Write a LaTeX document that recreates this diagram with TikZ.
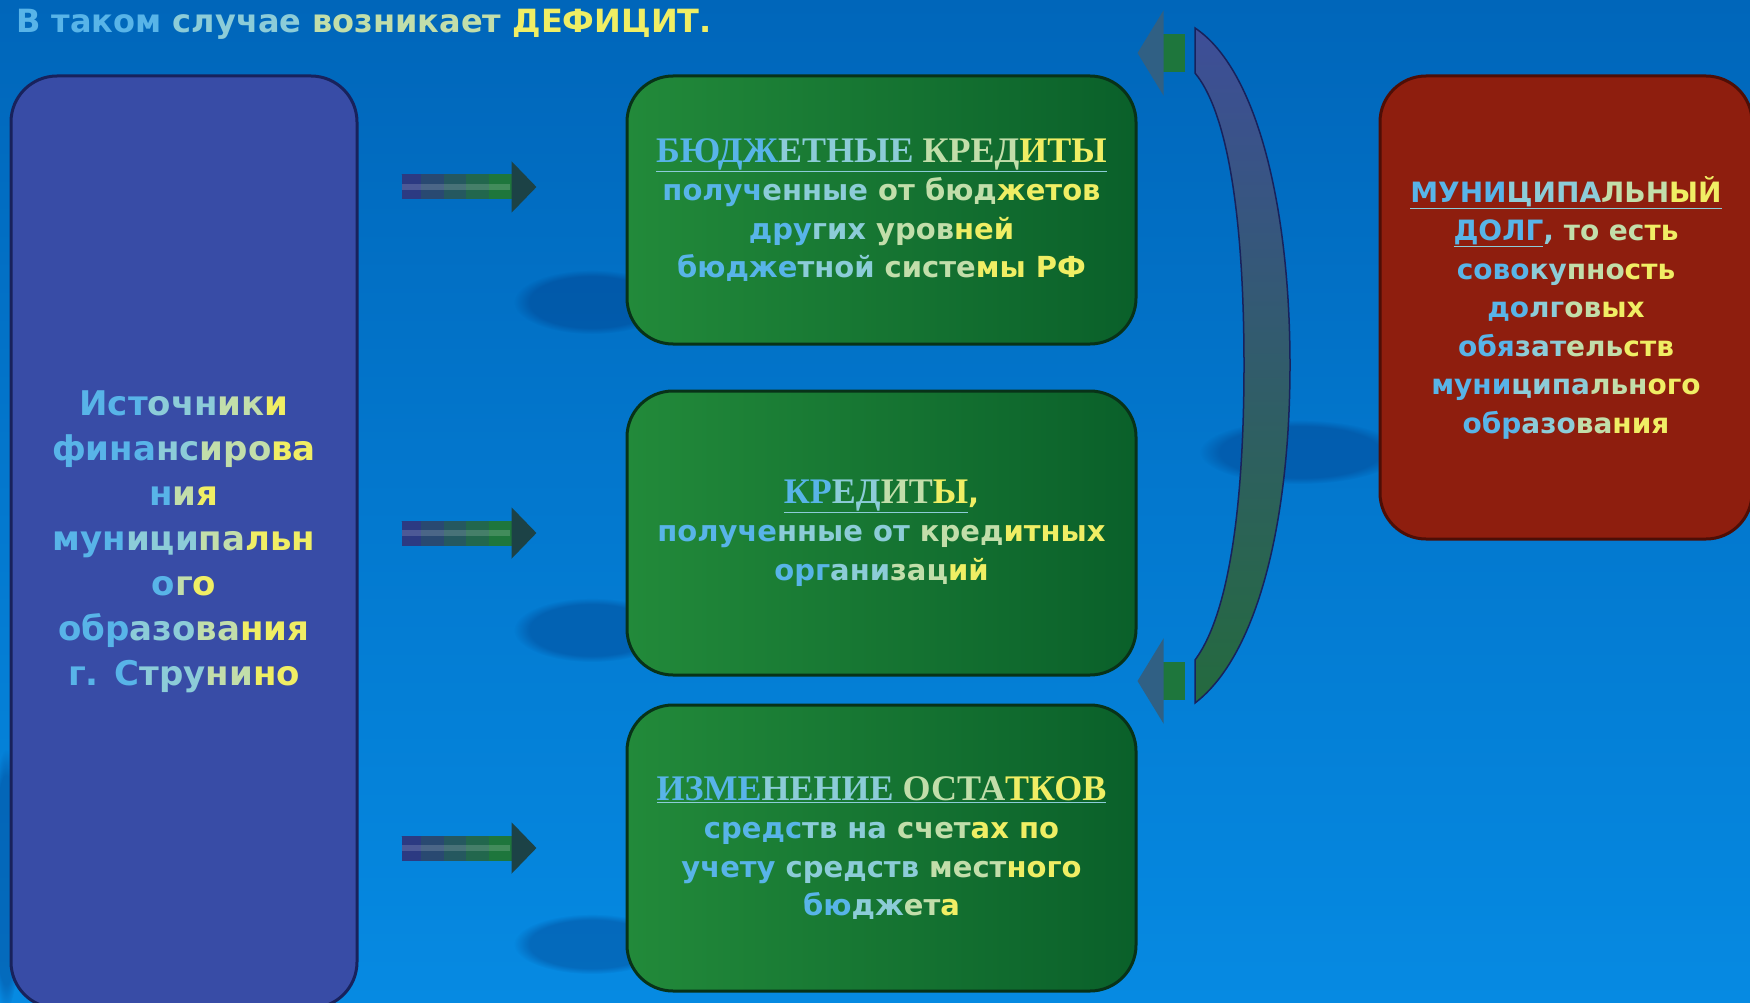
\documentclass[tikz,border=0pt]{standalone}
\usepackage{fontspec}
\setmainfont{DejaVu Sans}
\newfontfamily\headfont{Liberation Serif}
\usetikzlibrary{arrows.meta,fadings}

\definecolor{bgtop}{RGB}{0,102,186}
\definecolor{bgbot}{RGB}{6,138,226}
\definecolor{srcfill}{RGB}{56,76,166}
\definecolor{srcedge}{RGB}{24,34,92}
\definecolor{gnleft}{RGB}{34,138,58}
\definecolor{gnright}{RGB}{10,96,42}
\definecolor{gnedge}{RGB}{8,50,24}
\definecolor{rdfill}{RGB}{142,30,14}
\definecolor{rdedge}{RGB}{78,14,6}
\definecolor{arnavy}{RGB}{44,58,130}
\definecolor{arteal}{RGB}{48,96,132}
\definecolor{argreen}{RGB}{30,118,60}
\definecolor{arhead}{RGB}{28,66,70}
\definecolor{brnavy}{RGB}{62,78,152}
\definecolor{brgreen}{RGB}{36,106,62}
\definecolor{shadowblue}{RGB}{0,38,108}
\definecolor{tA}{RGB}{88,180,232}
\definecolor{tB}{RGB}{140,204,216}
\definecolor{tC}{RGB}{194,222,170}
\definecolor{tD}{RGB}{240,238,100}

\newcommand{\ca}[1]{\textcolor{tA}{#1}}
\newcommand{\cb}[1]{\textcolor{tB}{#1}}
\newcommand{\cc}[1]{\textcolor{tC}{#1}}
\newcommand{\cd}[1]{\textcolor{tD}{#1}}

\begin{document}
\begin{tikzpicture}[x=1pt,y=1pt,yscale=-1,
    box/.style={rounded corners=46pt, line width=3pt, align=center, inner sep=0pt, text=tB},
    srcbox/.style={box, draw=srcedge, fill=srcfill, minimum width=346pt, minimum height=932pt,
        font=\bfseries\fontsize{34}{45}\selectfont},
    greenbox/.style={box, draw=gnedge, left color=gnleft, right color=gnright, minimum width=509pt,
        font=\bfseries\fontsize{29}{38.5}\selectfont},
    debtbox/.style={box, draw=rdedge, fill=rdfill, minimum width=372pt, minimum height=463pt,
        font=\bfseries\fontsize{28}{38.5}\selectfont},
    headline/.style={font=\headfont\bfseries\fontsize{36}{38.5}\selectfont},
    farrow/.style={line width=25pt, draw=argreen, -{Triangle[length=25pt,width=50pt,fill=arhead,color=arhead]},
        shorten <=43pt, shorten >=89pt,
        postaction={draw=argreen!75!arnavy, -, shorten >=137pt},
        postaction={draw=argreen!50!arnavy, -, shorten >=160pt},
        postaction={draw=argreen!25!arnavy, -, shorten >=182pt},
        postaction={draw=arnavy, -, shorten >=205pt},
        postaction={draw=white, draw opacity=0.16, line width=6pt, -, shorten >=116pt}},
    larrow/.style={line width=38pt, draw=argreen, -{Triangle[length=26pt,width=84pt,fill=arteal,color=arteal]},
        shorten <=10pt},
    shadowblob/.style={fill=shadowblue, opacity=0.3, path fading=circle with fuzzy edge 20 percent},
    ]
    \useasboundingbox (0,0) rectangle (1750,1003);
    \clip (0,0) rectangle (1750,1003);

    %Shape: Background
    \shade [top color=bgtop, bottom color=bgbot] (0,0) rectangle (1750,1003);
    %Shape: Shadows
    \fill [shadowblob] (592,302) ellipse [x radius=78, y radius=32];
    \fill [shadowblob] (592,630) ellipse [x radius=78, y radius=32];
    \fill [shadowblob] (592,944) ellipse [x radius=78, y radius=30];
    \fill [shadowblob] (1300,452) ellipse [x radius=100, y radius=32];
    \fill [shadowblob] (6,880) ellipse [x radius=16, y radius=130];

    % Text Node
    \node [anchor=base west, inner sep=0pt, font=\bfseries\fontsize{32}{36}\selectfont] (title) at (16,33)
        {\ca{В таком} \cb{случае} \cc{возникает} \cd{ДЕФИЦИТ.}};

    %Shape: Rounded Rect
    \node [srcbox] (src) at (184,542)
        {\ca{Ист}\cb{очн}\cc{ик}\cd{и}\\
         \ca{фина}\cb{нс}\cc{иро}\cd{ва}\\
         \ca{н}\cc{и}\cd{я}\\
         \ca{мун}\cb{ици}\cc{па}\cd{льн}\\
         \ca{о}\cc{г}\cd{о}\\
         \ca{обр}\cb{азо}\cc{ва}\cd{ния}\\
         \ca{г.} \ca{С}\cb{тру}\cc{ни}\cd{но}};

    %Shape: Rounded Rect
    \node [greenbox, minimum height=268pt] (bk) at (881.5,210)
        {{\headfont\bfseries\fontsize{36}{38.5}\selectfont\underline{\ca{БЮДЖ}\cb{ЕТНЫЕ} \cc{КРЕД}\cd{ИТЫ}}}\\
         \ca{получ}\cb{енные} \cc{от} \cc{бюд}\cd{жетов}\\
         \ca{дру}\cb{гих} \cc{уров}\cd{ней}\\
         \ca{бюдже}\cb{тной} \cc{систе}\cd{мы} \cd{РФ}};

    %Shape: Rounded Rect
    \node [greenbox, minimum height=284pt] (cr) at (881.5,533)
        {{\headfont\bfseries\fontsize{36}{38.5}\selectfont\underline{\ca{КР}\cb{ЕД}\cc{ИТ}\cd{Ы}}}\cd{,}\\
         \ca{получе}\cb{нные} \cb{от} \cc{кред}\cd{итных}\\
         \ca{орг}\cb{ани}\cc{зац}\cd{ий}};

    %Shape: Rounded Rect
    \node [greenbox, minimum height=286pt] (ost) at (881.5,848)
        {{\headfont\bfseries\fontsize{36}{38.5}\selectfont\underline{\ca{ИЗМЕ}\cb{НЕНИЕ} \cc{ОСТА}\cd{ТКОВ}}}\\
         \ca{средс}\cb{тв} \cb{на} \cc{счет}\cd{ах} \cd{по}\\
         \ca{учету} \cb{средств} \cc{мест}\cd{ного}\\
         \ca{бю}\cb{дж}\cc{ет}\cd{а}};

    %Shape: Rounded Rect
    \node [debtbox] (dolg) at (1566,307.5)
        {\underline{\ca{МУНИ}\cb{ЦИПА}\cc{ЛЬН}\cd{ЫЙ}}\\
         \underline{\ca{ДОЛГ}}\cb{,} \cc{то} \cc{ес}\cd{ть}\\
         \ca{сово}\cb{ку}\cc{пно}\cd{сть}\\
         \ca{до}\cb{лг}\cc{ов}\cd{ых}\\
         \ca{обя}\cb{зат}\cc{ель}\cd{ств}\\
         \ca{муни}\cb{ципа}\cc{льн}\cd{ого}\\
         \ca{обр}\cb{азо}\cc{ва}\cd{ния}};

    %Shape: Curved Bracket
    \shade [top color=brnavy, bottom color=brgreen, draw=srcedge, line width=1.5pt]
        (1195,28) .. controls (1258,70) and (1290,210) .. (1290,365)
        .. controls (1290,520) and (1258,655) .. (1195,703) -- (1195,660)
        .. controls (1232,610) and (1244,490) .. (1244,365)
        .. controls (1244,240) and (1232,118) .. (1195,73) -- cycle;
    \coordinate (brt) at (1195,53);
    \coordinate (brb) at (1195,681);

    %Straight Lines
    \coordinate (bkin) at ([yshift=-23pt]bk.west);
    \draw [farrow] (src.east |- bkin) -- (bkin);
    \draw [farrow] (src.east |- cr.west) -- (cr.west);
    \draw [farrow] (src.east |- ost.west) -- (ost.west);
    \draw [larrow] (brt) -- (bk.east |- brt);
    \draw [larrow] (brb) -- (cr.east |- brb);

\end{tikzpicture}
\end{document}
